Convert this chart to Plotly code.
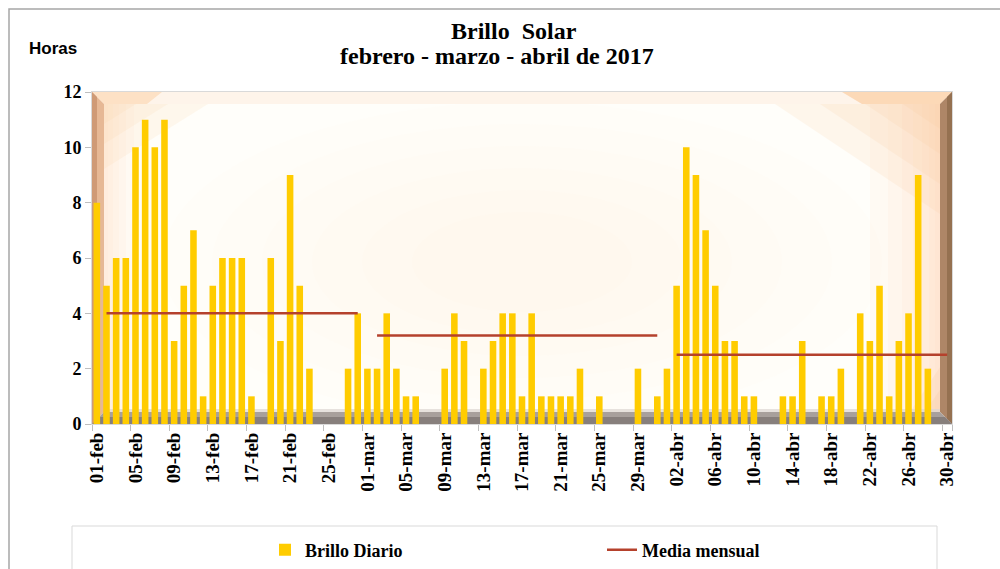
import plotly.graph_objects as go

# ---------------- data ----------------
month_names = ["feb", "mar", "abr"]
month_days = [28, 31, 30]
brillo_feb = [8, 5, 6, 6, 10, 11, 10, 11, 3, 5, 7, 1, 5, 6, 6, 6, 1, 0, 6, 3, 9, 5, 2, 0, 0, 0, 2, 4]
brillo_mar = [2, 2, 4, 2, 1, 1, 0, 0, 2, 4, 3, 0, 2, 3, 4, 4, 1, 4, 1, 1, 1, 1, 2, 0, 1, 0, 0, 0, 2, 0, 1]
brillo_abr = [2, 5, 10, 9, 7, 5, 3, 3, 1, 1, 0, 0, 1, 1, 3, 0, 1, 1, 2, 0, 4, 3, 5, 1, 3, 4, 9, 2, 0, 0]
media_mensual = [4.0, 3.2, 2.5]
y_ticks = [0, 2, 4, 6, 8, 10, 12]

# categories "01-feb" ... "30-abr"
categories = []
for name, n in zip(month_names, month_days):
    for d in range(1, n + 1):
        categories.append(f"{d:02d}-{name}")
brillo = brillo_feb + brillo_mar + brillo_abr

# monthly mean line (drawn from the 2nd day of every month)
media_y = []
for m, n in zip(media_mensual, month_days):
    media_y += [None] + [m] * (n - 1)

tick_cats = categories[::4]

# ---------------- layout helpers (pixel -> paper) ----------------
W, H = 1000, 569
L, R, T, B = 92, 952, 92, 424


def px(x):
    return (x - L) / (R - L)


def py(y):
    return (B - y) / (B - T)


def poly(points, color, opacity=1.0):
    d = "M " + " L ".join(f"{px(x):.5f},{py(y):.5f}" for x, y in points) + " Z"
    return dict(type="path", xref="paper", yref="paper", path=d, fillcolor=color,
                line=dict(width=0), opacity=opacity, layer="below")


def rect(x0, y0, x1, y1, color, opacity=1.0):
    return dict(type="rect", xref="paper", yref="paper", x0=px(x0), x1=px(x1),
                y0=py(y1), y1=py(y0), fillcolor=color, line=dict(width=0),
                opacity=opacity, layer="below")


def ellipse(cx, cy, rx, ry, color, opacity):
    return dict(type="circle", xref="paper", yref="paper", x0=px(cx - rx), x1=px(cx + rx),
                y0=py(cy + ry), y1=py(cy - ry), fillcolor=color, line=dict(width=0),
                opacity=opacity, layer="below")


bw = 12
shapes = []
# central warm glow (soft, many thin layers)
for i in range(6):
    shapes.append(ellipse(522, 262, 360 - 50 * i, 160 - 22 * i, "#fcf0da", 0.06))
# inner glows along left / right edges
for w in [4, 9, 15, 22, 30]:
    shapes.append(rect(L + bw, T + bw, L + bw + w, B - bw, "#fbd9b8", 0.10))
for w in [5, 11, 18, 27, 38, 52, 70]:
    shapes.append(rect(R - bw - w, T + bw, R - bw, B - bw, "#f9cfa6", 0.08))
# corner glows as diagonal wedges
for s in [20, 40, 65]:
    shapes.append(poly([(L + bw, T + bw), (L + bw + s * 1.6, T + bw), (L + bw, T + bw + s)], "#fbd2a8", 0.16))
for s in [25, 50, 80, 110]:
    shapes.append(poly([(R - bw, T + bw), (R - bw - s * 1.5, T + bw), (R - bw, T + bw + s)], "#f9c996", 0.14))
for s in [15, 30]:
    shapes.append(poly([(R - bw, B - bw), (R - bw - s, B - bw), (R - bw, B - bw - s * 1.5)], "#f6c291", 0.18))

# bevel frame
shapes.append(poly([(L, T), (R, T), (R - bw, T + bw), (L + bw, T + bw)], "#fef4ea"))
shapes.append(poly([(L, T), (L + 70, T), (L + 55, T + bw), (L + bw, T + bw)], "#fcdcbc", 0.8))
shapes.append(poly([(R - 110, T), (R, T), (R - bw, T + bw), (R - 90, T + bw)], "#fbd2aa", 0.8))
shapes.append(poly([(L, T), (L + bw, T + bw), (L + bw, B - bw), (L, B)], "#e6b895"))
shapes.append(poly([(L, T), (L + 5, T + 5), (L + 5, B - 5), (L, B)], "#cf9a76"))
shapes.append(poly([(R, T), (R, B), (R - bw, B - bw), (R - bw, T + bw)], "#ae8667"))
shapes.append(poly([(R, T), (R, B), (R - 5, B - 5), (R - 5, T + 5)], "#957151"))
shapes.append(poly([(L, B), (R, B), (R - bw, B - bw), (L + bw, B - bw)], "#a8a09c"))
shapes.append(poly([(L, B), (R, B), (R - 7, B - 7), (L + 7, B - 7)], "#877f7c"))
shapes.append(poly([(L + bw, B - bw), (R - bw, B - bw), (R - bw, B - bw - 3), (L + bw, B - bw - 3)], "#ddd6d2", 0.7))

# legend box and outer chart border
shapes.append(dict(type="rect", xref="paper", yref="paper", x0=px(72), x1=px(937),
                   y0=py(585), y1=py(526), line=dict(color="#d9d9d9", width=1),
                   fillcolor="rgba(0,0,0,0)", layer="below"))
shapes.append(dict(type="rect", xref="paper", yref="paper", x0=px(9), x1=px(1010),
                   y0=py(590), y1=py(9), line=dict(color="#a6a6a6", width=1.5),
                   fillcolor="rgba(0,0,0,0)", layer="below"))

fig = go.Figure()
fig.add_trace(go.Bar(
    x=categories, y=brillo, name="Brillo Diario",
    marker=dict(color="#ffcc00", line=dict(width=0)),
))
fig.add_trace(go.Scatter(
    x=categories, y=media_y, name="Media mensual", mode="lines",
    line=dict(color="#b5412c", width=2.5), connectgaps=False,
))

serif = "Liberation Serif, Times New Roman, serif"

annotations = [
    dict(text="Brillo\u00a0 Solar", xref="paper", yref="paper", x=px(514), y=py(31),
         xanchor="center", yanchor="middle", showarrow=False,
         font=dict(family=serif, size=24, color="#000000", weight="bold")),
    dict(text="febrero - marzo - abril de 2017", xref="paper", yref="paper", x=px(497), y=py(56),
         xanchor="center", yanchor="middle", showarrow=False,
         font=dict(family=serif, size=24, color="#000000", weight="bold")),
    dict(text="Horas", xref="paper", yref="paper", x=px(53), y=py(49),
         xanchor="center", yanchor="middle", showarrow=False,
         font=dict(family="Liberation Sans, Arial, sans-serif", size=17, color="#000000", weight="bold")),
]

fig.update_layout(
    width=W, height=H,
    margin=dict(l=L, r=W - R, t=T, b=H - B, autoexpand=False),
    paper_bgcolor="#ffffff",
    plot_bgcolor="#fffefa",
    bargap=0.32,
    showlegend=True,
    legend=dict(orientation="h", x=px(265), xanchor="left", y=py(550), yanchor="middle",
                entrywidth=292, entrywidthmode="pixels",
                font=dict(family=serif, size=18, color="#000000", weight="bold"),
                bgcolor="rgba(0,0,0,0)", borderwidth=0),
    shapes=shapes,
    annotations=annotations,
    xaxis=dict(type="category", tickmode="array", tickvals=tick_cats, ticktext=tick_cats,
               tickson="boundaries", tickangle=-90, ticks="outside", ticklen=6,
               tickcolor="#bfbfbf", showline=True, linecolor="#d9d9d9", mirror=True,
               showgrid=False, zeroline=False, automargin=False,
               tickfont=dict(family=serif, size=19, color="#000000", weight="bold")),
    yaxis=dict(range=[0, 12], tickmode="array", tickvals=y_ticks, ticks="outside",
               ticklen=6, tickcolor="#bfbfbf", showline=True, linecolor="#d9d9d9",
               mirror=True, showgrid=False, zeroline=False, automargin=False,
               tickfont=dict(family=serif, size=18, color="#000000", weight="bold")),
)

fig.write_html("out.html", config={"displayModeBar": False},
               post_script="document.body.style.margin='0px';")
